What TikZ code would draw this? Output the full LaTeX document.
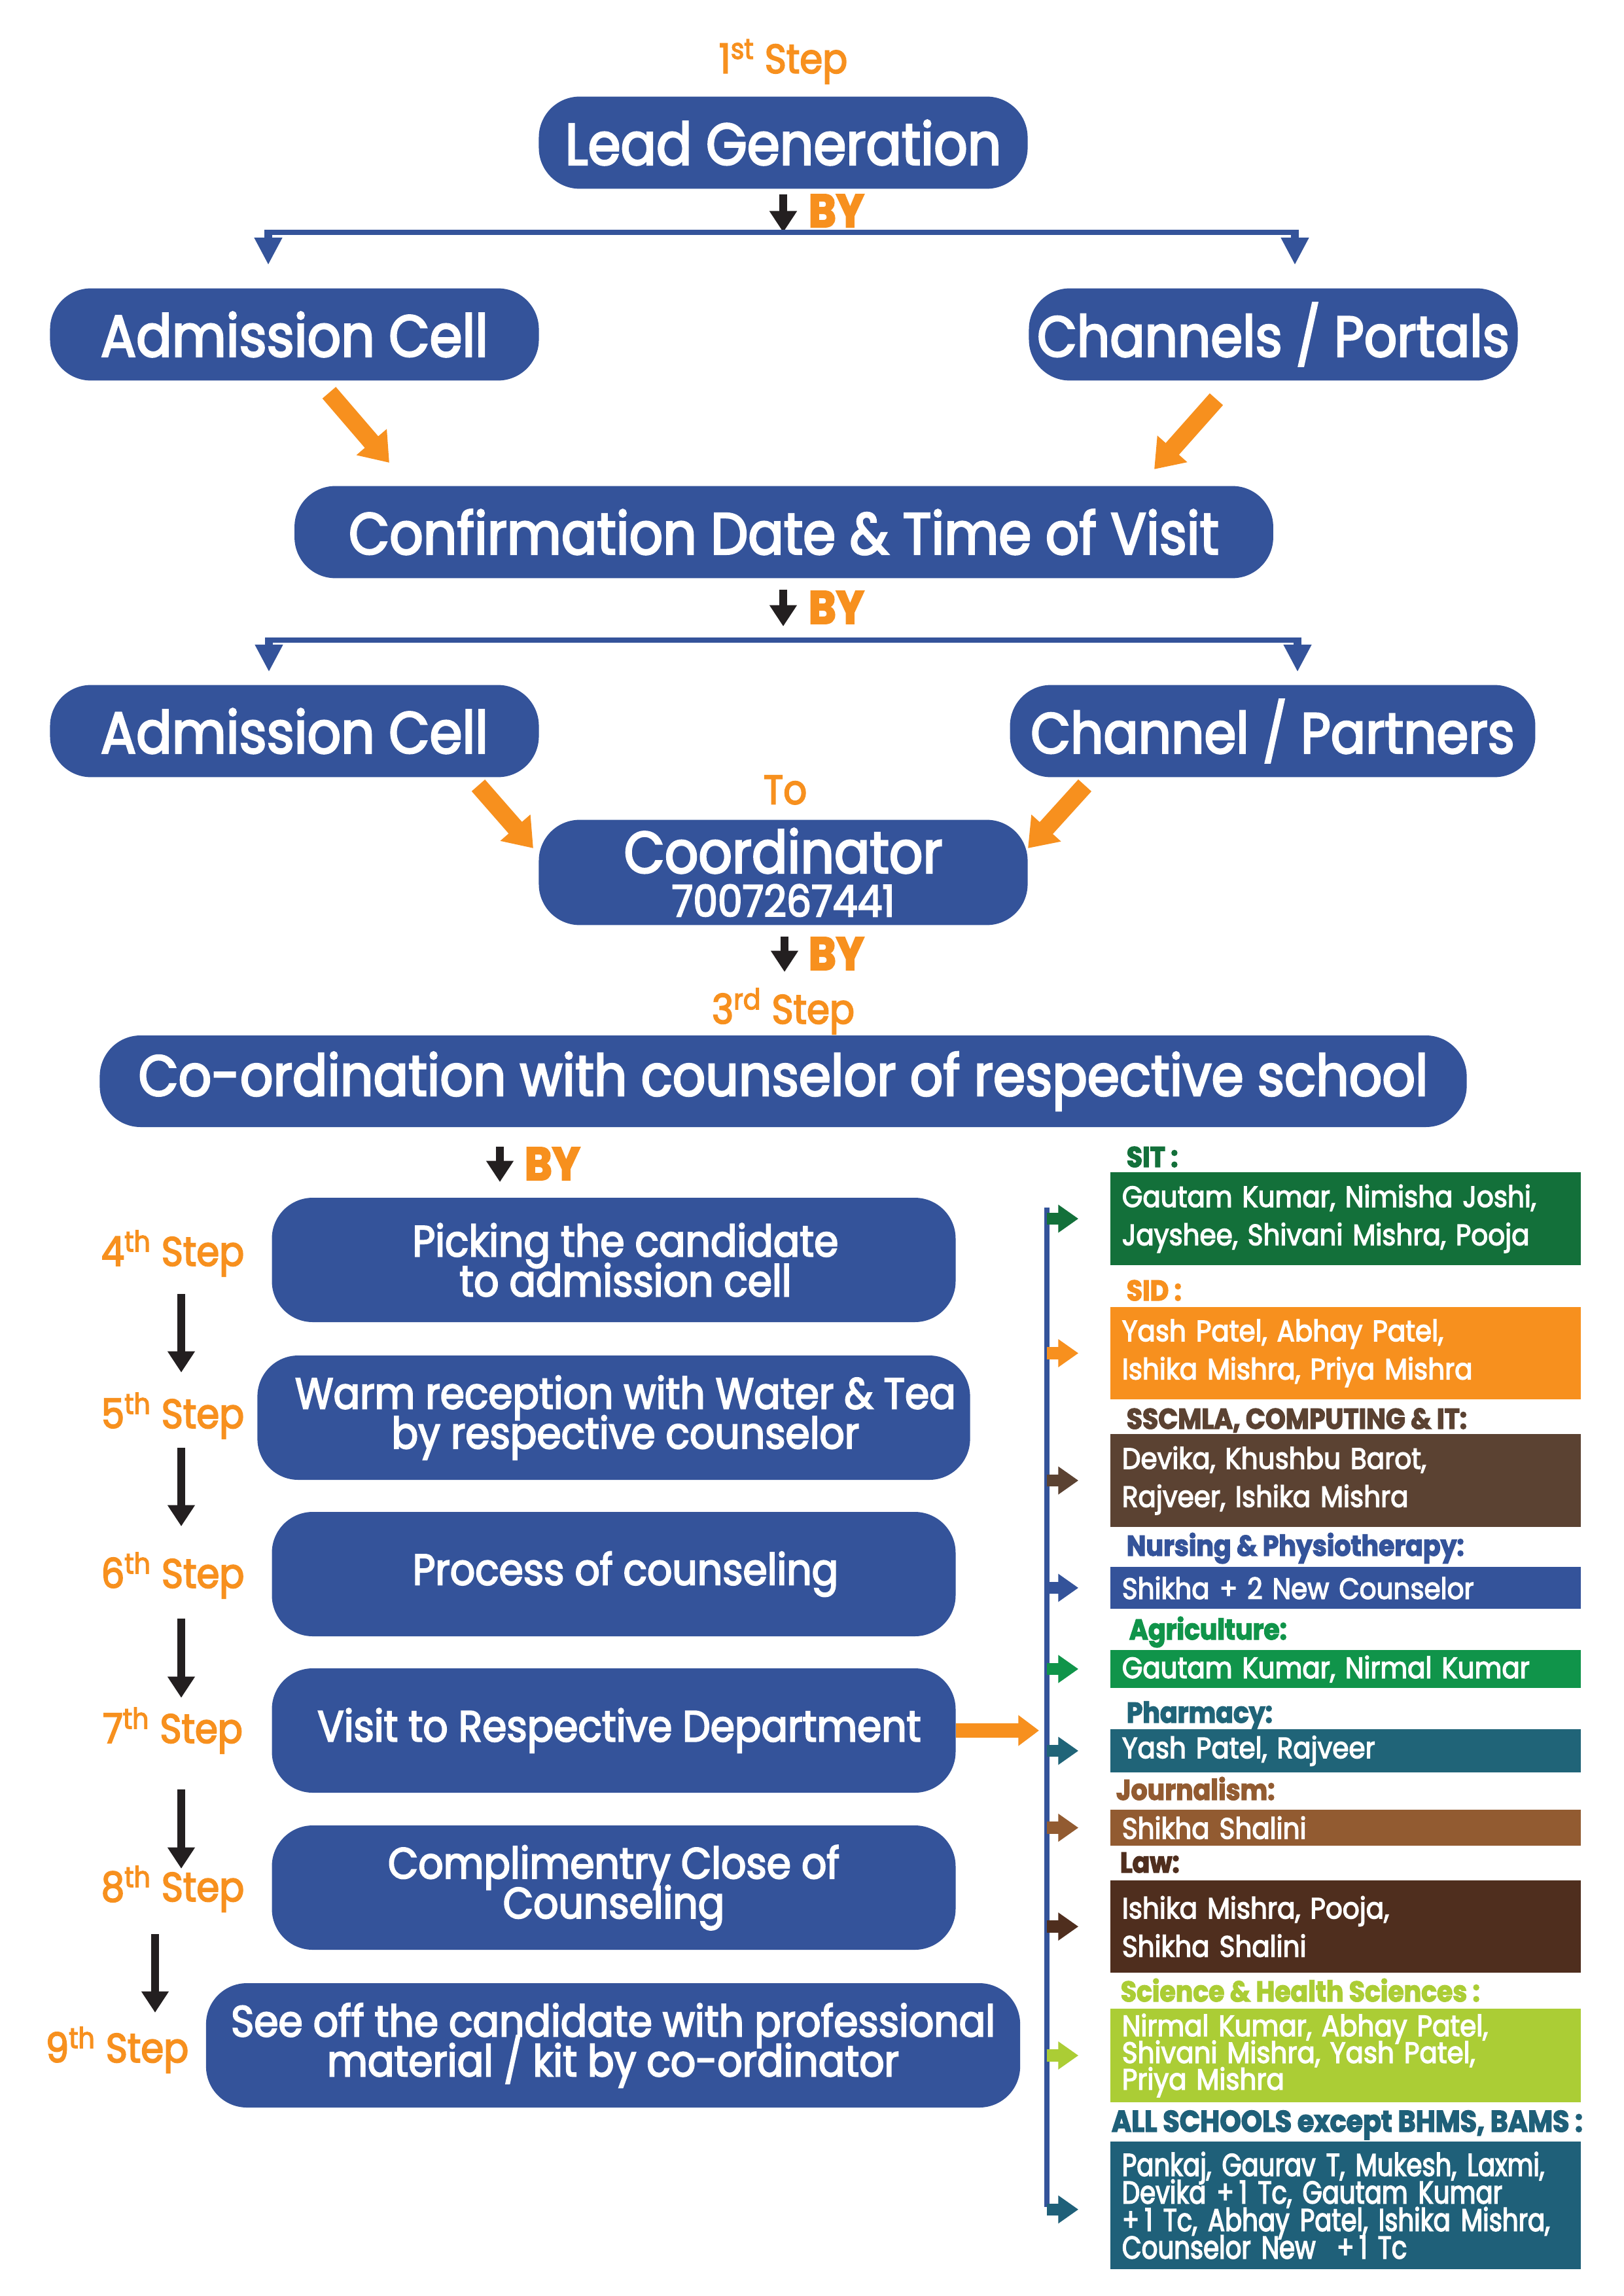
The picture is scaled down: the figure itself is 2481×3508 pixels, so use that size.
\documentclass[tikz,border=0pt]{standalone}
\usepackage{fontspec}
\setmainfont{Poppins}[FakeStretch=0.9,FakeBold=3]
\newfontfamily\condfont{Poppins}[FakeStretch=0.8,FakeBold=3]
\usetikzlibrary{arrows.meta,calc}
\def\tightls{\lineskiplimit-100pt\relax}
\definecolor{cblue}{HTML}{34539A}
\definecolor{corange}{HTML}{F7901E}
\definecolor{cblack}{HTML}{231F20}
\definecolor{csit}{HTML}{13703A}
\definecolor{csscmla}{HTML}{5B4232}
\definecolor{cagri}{HTML}{10944A}
\definecolor{cpharm}{HTML}{206478}
\definecolor{cjourn}{HTML}{925B31}
\definecolor{claw}{HTML}{4F2E1E}
\definecolor{csci}{HTML}{ABCD35}
\definecolor{call}{HTML}{1F6079}
\begin{document}
\begin{tikzpicture}[x=0.24pt,y=-0.24pt,
  bigbox/.style={fill=cblue, rounded corners=15pt, text=white, font=\fontsize{21.5}{24}\selectfont, inner sep=0pt, minimum height=33.8pt, minimum width=179.3pt, align=center},
  stepbox/.style={fill=cblue, rounded corners=15pt, inner sep=0pt, minimum height=45.6pt, minimum width=250.8pt},
  steptext/.style={text=white, font=\fontsize{16}{14.6}\selectfont\tightls, inner sep=0pt, align=center},
  steplbl/.style={text=corange, font=\fontsize{15}{18}\selectfont, inner sep=0pt},
  bytxt/.style={text=corange, font=\bfseries\fontsize{17}{20}\selectfont, inner sep=0pt, anchor=west},
  blkarr/.style={draw=cblack, line width=3pt, -{Triangle[width=9.6pt,length=7.8pt]}},
  barr/.style={draw=cblue, line width=2pt},
  barrtip/.style={draw=cblue, line width=2.8pt, -{Triangle[width=9.6pt,length=10pt]}},
  oarr/.style={draw=corange, line width=6.5pt, -{Triangle[width=14pt,length=10pt]}},
  oarrh/.style={draw=corange, line width=5.2pt, -{Triangle[width=10.8pt,length=7.6pt]}},
  sarr/.style={draw=#1, line width=4.4pt, -{Triangle[width=9.8pt,length=7.4pt]}},
  rbox/.style={fill=#1, text=white, font=\fontsize{10.8}{14}\selectfont\tightls, inner xsep=4.3pt, inner ysep=0pt, text width=164pt, align=left, minimum width=172.6pt},
  rlbl/.style={text=#1, font=\bfseries\fontsize{10.5}{12}\selectfont, inner sep=0pt, anchor=base west}
]
\fill[white] (0,0) rectangle (2481,3508);
\useasboundingbox (0,0) rectangle (2481,3508);

% ---- top part ----
\node[steplbl] (st1) at (1197,94) {1\textsuperscript{st} Step};
\node[bigbox] (lead) at (1197,218) {Lead Generation};
\node[bytxt] (by1) at (1235,322) {BY};
\coordinate (h1) at (1197,355);
\coordinate (h1l) at (410,355);
\coordinate (h1r) at (1979,355);
\draw[blkarr] (1197,297) -- (h1);
\draw[barr] (h1l) -- (h1r);

\node[bigbox] (adm1) at (450,511) {Admission Cell};
\node[bigbox, font=\fontsize{21}{24}\selectfont] (chan1) at (1946,511) {Channels / Portals};
\draw[barrtip, shorten >=8.4pt] ([yshift=1pt]h1l) -- (h1l |- adm1.north);
\draw[barrtip, shorten >=8.4pt] ([yshift=1pt]h1r) -- (h1r |- chan1.north);

\node[bigbox, minimum width=359pt] (conf) at (1198,813) {Confirmation Date \& Time of Visit};
\coordinate (o1s) at (503,600);
\coordinate (o1e) at (595,707);
\coordinate (o2s) at (1859,610);
\coordinate (o2e) at (1764,717);
\draw[oarr] (o1s) -- (o1e);
\draw[oarr] (o2s) -- (o2e);

\node[bytxt] (by2) at (1235,928) {BY};
\coordinate (h2) at (1197,978);
\coordinate (h2l) at (411,978);
\coordinate (h2r) at (1983,978);
\draw[blkarr] (1197,901) -- (1197,957);
\draw[barr] (h2l) -- (h2r);

\node[bigbox] (adm2) at (450,1117) {Admission Cell};
\node[bigbox, minimum width=192.7pt, font=\fontsize{21}{24}\selectfont] (chan2) at (1945,1117) {Channel / Partners};
\draw[barrtip, shorten >=4.6pt] ([yshift=1pt]h2l) -- (h2l |- adm2.north);
\draw[barrtip, shorten >=4.6pt] ([yshift=1pt]h2r) -- (h2r |- chan2.north);

\node[steplbl] (to) at (1200,1207) {To};
\node[bigbox, minimum height=38.6pt] (coord) at (1197,1333) {Coordinator\\[-8pt]{\fontsize{16}{16}\selectfont 7007267441}};
\coordinate (o3s) at (731,1200);
\coordinate (o3e) at (815,1296);
\coordinate (o4s) at (1658,1200);
\coordinate (o4e) at (1571,1296);
\draw[oarr] (o3s) -- (o3e);
\draw[oarr] (o4s) -- (o4e);

\node[bytxt] (by3) at (1235,1457) {BY};
\draw[blkarr] (1199,1431) -- (1199,1485);
\node[steplbl] (st3) at (1197,1545) {3\textsuperscript{rd} Step};
\node[bigbox, minimum width=501.4pt, minimum height=33.6pt, font=\fontsize{21.1}{24}\selectfont] (coop) at (1197,1652) {Co-ordination with counselor of respective school};
\node[bytxt] (by4) at (801,1778) {BY};
\draw[blkarr] (764,1752) -- (764,1806);

% ---- steps ----
\node[stepbox] (b4) at (938,1925) {};
\node[stepbox, minimum width=261.4pt] (b5) at (938,2166) {};
\node[stepbox] (b6) at (938,2405) {};
\node[stepbox] (b7) at (938,2644) {};
\node[stepbox] (b8) at (938,2884) {};
\node[stepbox, minimum width=298.6pt] (b9) at (937,3125) {};
\node[steptext] (b4t) at ([xshift=4.3pt]b4.center) {Picking the candidate\\to admission cell};
\node[steptext] (b5t) at ([xshift=4.3pt]b5.center) {Warm reception with Water \& Tea\\by respective counselor};
\node[steptext] (b6t) at ([xshift=4.3pt]b6.center) {Process of counseling};
\node[steptext] (b7t) at ([xshift=2pt]b7.center) {Visit to Respective Department};
\node[steptext] (b8t) at (b8.center) {Complimentry Close of\\Counseling};
\node[steptext] (b9t) at (b9.center) {See off the candidate with professional\\material / kit by co-ordinator};

\node[steplbl] (s4) at (264,1915) {4\textsuperscript{th} Step};
\node[steplbl] (s5) at (264,2163) {5\textsuperscript{th} Step};
\node[steplbl] (s6) at (264,2407) {6\textsuperscript{th} Step};
\node[steplbl] (s7) at (264,2644) {7\textsuperscript{th} Step};
\node[steplbl] (s8) at (264,2886) {8\textsuperscript{th} Step};
\node[steplbl] (s9) at (179,3132) {9\textsuperscript{th} Step};

\draw[blkarr] (277,1977) -- (277,2097);
\draw[blkarr] (277,2212) -- (277,2332);
\draw[blkarr] (277,2473) -- (277,2594);
\draw[blkarr] (277,2734) -- (277,2855);
\draw[blkarr] (237,2955) -- (237,3075);

% ---- right column ----
\coordinate (spT) at (1600,1845);
\coordinate (spB) at (1600,3372);
\draw[draw=cblue, line width=1.8pt] (spT) -- (spB);
\draw[oarrh] (b7.east) -- (1588,2644);

\node[rbox=csit, minimum height=34.1pt] (sit) at (2056.5,1862) {Gautam Kumar, Nimisha Joshi,\\Jayshee, Shivani Mishra, Pooja};
\node[rbox=corange, minimum height=33.8pt] (sid) at (2056.5,2067.5) {Yash Patel, Abhay Patel,\\Ishika Mishra, Priya Mishra};
\node[rbox=csscmla, minimum height=34.1pt] (ssc) at (2056.5,2262) {Devika, Khushbu Barot,\\Rajveer, Ishika Mishra};
\node[rbox=cblue, minimum height=15.4pt] (nur) at (2056.5,2426) {Shikha + 2 New Counselor};
\node[rbox=cagri, minimum height=13.9pt] (agr) at (2056.5,2550) {Gautam Kumar, Nirmal Kumar};
\node[rbox=cpharm, minimum height=15.8pt] (pha) at (2056.5,2675) {Yash Patel, Rajveer};
\node[rbox=cjourn, minimum height=13.2pt] (jou) at (2056.5,2792.5) {Shikha Shalini};
\node[rbox=claw, minimum height=33.8pt] (law) at (2056.5,2943.5) {Ishika Mishra, Pooja,\\Shikha Shalini};
\node[rbox=csci, minimum height=34.3pt, font=\fontsize{10.8}{9.8}\selectfont\tightls] (sci) at (2056.5,3140.5) {Nirmal Kumar, Abhay Patel,\\Shivani Mishra, Yash Patel,\\Priya Mishra};
\node[rbox=call, minimum height=46.8pt, font=\condfont\fontsize{11.6}{10.1}\selectfont\tightls] (all) at (2056.5,3369.5) {Pankaj, Gaurav T, Mukesh, Laxmi,\\Devika +\,1 Tc, Gautam Kumar\\+\,1 Tc, Abhay Patel, Ishika Mishra,\\Counselor New~~+\,1 Tc};

\node[rlbl=csit] (lsit) at (1721,1783) {SIT :};
\node[rlbl=corange] (lsid) at (1721,1987) {SID :};
\node[rlbl=csscmla] (lssc) at (1721,2183) {SSCMLA, COMPUTING \& IT:};
\node[rlbl=cblue] (lnur) at (1721,2377) {Nursing \& Physiotherapy:};
\node[rlbl=cagri] (lagr) at (1725,2505) {Agriculture:};
\node[rlbl=cpharm] (lpha) at (1721,2632) {Pharmacy:};
\node[rlbl=cjourn] (ljou) at (1705,2750) {Journalism:};
\node[rlbl=claw] (llaw) at (1711,2861) {Law:};
\node[rlbl=csci] (lsci) at (1712,3058) {Science \& Health Sciences :};
\node[rlbl=call, font=\bfseries\fontsize{11}{12}\selectfont] (lall) at (1698,3257) {ALL SCHOOLS except BHMS, BAMS :};

\draw[sarr=csit] (sit.west -| spT) -- ([xshift=-11.5pt]sit.west);
\draw[sarr=corange] (sid.west -| spT) -- ([xshift=-11.5pt]sid.west);
\draw[sarr=csscmla] (ssc.west -| spT) -- ([xshift=-11.5pt]ssc.west);
\draw[sarr=cblue] (nur.west -| spT) -- ([xshift=-11.5pt]nur.west);
\draw[sarr=cagri] (agr.west -| spT) -- ([xshift=-11.5pt]agr.west);
\draw[sarr=cpharm] (pha.west -| spT) -- ([xshift=-11.5pt]pha.west);
\draw[sarr=cjourn] (jou.west -| spT) -- ([xshift=-11.5pt]jou.west);
\draw[sarr=claw] (law.west -| spT) -- ([xshift=-11.5pt]law.west);
\draw[sarr=csci] (sci.west -| spT) -- ([xshift=-11.5pt]sci.west);
\draw[sarr=call] ([yshift=-1.5pt]all.west -| spT) -- ([xshift=-11.5pt,yshift=-1.5pt]all.west);
\end{tikzpicture}
\end{document}
